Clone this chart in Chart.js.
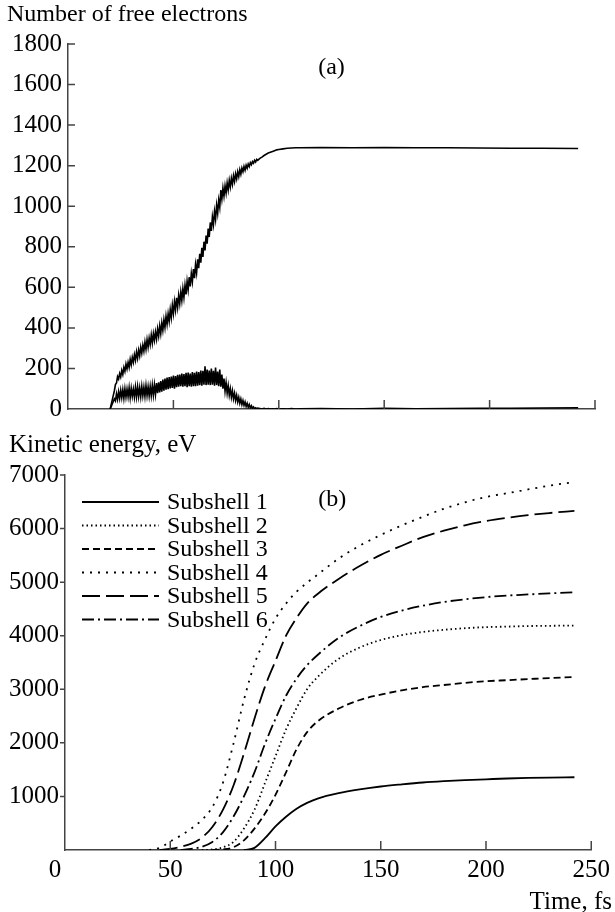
<!DOCTYPE html>
<html><head><meta charset="utf-8">
<script src="https://cdn.jsdelivr.net/npm/chart.js@4.4.1/dist/chart.umd.min.js"></script>
<style>
html,body{margin:0;padding:0;background:#fff;}
#wrap{position:relative;width:615px;height:912px;overflow:hidden;background:#fff;}
#c1{position:absolute;left:0;top:0;}
#c2{position:absolute;left:0;top:425px;}
</style></head><body>
<div id="wrap"><canvas id="c1" width="615" height="430"></canvas><canvas id="c2" width="615" height="487"></canvas></div>
<script>
// ---------- panel (a) data ----------
const topTimes = [
 20,21,
 22,22.5,23,23.5,24,24.5,25,25.5,26,26.5,
 27,27.5,28,28.5,29,29.5,30,30.5,31,31.5,
 32,32.5,33,33.5,34,34.5,35,35.5,36,36.5,
 37,37.5,38,38.5,39,39.5,40,40.5,41,41.5,
 42,42.5,43,43.5,44,44.5,45,45.5,46,46.5,
 47,47.5,48,48.5,49,49.5,50,50.5,51,51.5,
 52,52.5,53,53.5,54,54.5,55,55.5,56,56.5,
 57,57.5,58,58.5,59,59.5,60,60.5,61,61.5,
 62,62.5,63,63.5,64,64.5,65,65.5,66,66.5,
 67,67.5,68,68.5,69,69.5,70,70.5,71,71.5,
 72,72.5,73,73.5,74,74.5,75,75.5,76,76.5,
 77,77.5,78,78.5,79,79.5,80,80.5,81,81.5,
 82,82.5,83,83.5,84,84.5,85,85.5,86,86.5,
 87,87.5,88,88.5,89,89.5,90,
 91,92,93,94,95,96,97,98,99,100,102,104,106,108,110,120,135,150,165,180,195,210,225,242];
const totalElectrons = [
 0,45,
 90,120,128,160,148,175,158,190,170,205,
 185,222,198,230,205,245,218,255,230,268,
 240,282,250,290,262,305,275,315,285,330,
 295,342,305,350,318,365,325,372,338,380,
 345,395,360,410,372,425,388,440,402,458,
 418,470,432,490,450,512,470,530,488,548,
 502,560,520,578,535,595,550,610,565,630,
 588,650,605,668,628,690,645,712,672,738,
 695,765,722,795,750,825,782,855,815,890,
 848,920,878,948,910,975,935,1005,965,1030,
 995,1080,1035,1090,1050,1100,1065,1115,1080,1128,
 1095,1138,1108,1150,1122,1160,1135,1170,1146,1180,
 1158,1188,1170,1196,1178,1202,1187,1208,1196,1215,
 1205,1220,1212,1226,1218,1231,1226,
 1236,1242,1250,1256,1262,1266,1270,1274,1278,1280,1283,1286,1287,1288,1288,1289,1288,1289,1288,1288,1287,1286,1286,1285];
const innerElectrons = [
 0,25,
 50,40,75,48,85,52,92,55,95,52,
 100,58,98,60,105,55,102,62,98,58,
 108,60,110,62,105,60,112,65,108,62,
 115,66,110,64,112,66,118,68,120,72,
 128,78,132,82,138,86,145,90,150,95,
 155,98,158,102,160,104,165,100,162,108,
 168,110,170,112,175,110,172,112,178,108,
 180,112,175,110,182,112,178,112,185,115,
 182,118,190,115,188,120,210,118,195,120,
 190,118,200,120,188,115,205,118,185,112,
 195,110,170,100,150,88,130,78,115,68,
 100,58,90,50,78,42,68,35,58,28,
 50,22,42,18,35,12,28,8,22,5,
 16,3,10,2,6,1,4,
 2,0,3,0,2,0,1,0,2,0,1,0,2,0,1,2,0,3,1,2,4,3,5,6];
const electronTicks = [0,200,400,600,800,1000,1200,1400,1600,1800];
const timeTicks = [0,50,100,150,200,250];

// ---------- panel (b) data ----------
const bottomTimes = [40,45,50,55,60,65,70,75,80,85,90,95,100,105,110,115,120,130,140,150,160,170,180,190,200,210,220,230,242];
const subshellNames = ['Subshell 1','Subshell 2','Subshell 3','Subshell 4','Subshell 5','Subshell 6'];
const subshell1 = [null,null,null,null,null,null,null,null,null,0,40,220,440,620,770,880,960,1060,1130,1185,1225,1260,1285,1305,1320,1335,1345,1352,1358];
const subshell2 = [null,null,null,null,null,0,10,50,150,400,750,1250,1750,2250,2650,3000,3230,3570,3780,3920,4010,4070,4110,4140,4160,4170,4180,4185,4190];
const subshell3 = [null,null,null,null,null,null,0,10,50,180,400,680,1030,1450,1880,2200,2400,2640,2800,2900,2980,3040,3080,3120,3150,3170,3190,3210,3230];
const subshell4 = [0,40,160,270,400,560,800,1250,1980,2800,3470,3930,4320,4600,4820,4990,5140,5440,5680,5880,6060,6220,6370,6490,6590,6660,6730,6800,6870];
const subshell5 = [null,0,20,60,120,230,430,750,1200,1800,2450,3050,3530,4000,4330,4600,4780,5060,5300,5510,5680,5840,5960,6060,6140,6200,6250,6290,6330];
const subshell6 = [null,null,null,0,20,60,150,330,620,1000,1450,1980,2450,2880,3200,3450,3640,3960,4180,4350,4470,4560,4630,4680,4720,4750,4770,4790,4810];
const energyTicks = [0,1000,2000,3000,4000,5000,6000,7000];

// ---------- styling ----------
const FONT = "'Liberation Serif','DejaVu Serif',serif";
const AXIS = '#444';
const toXY = (xs, ys) => xs.map((x, i) => ({x: x, y: ys[i]}));
const fixedTicks = arr => (s => { s.ticks = arr.map(v => ({value: v})); });

const axisDecor = {
  id: 'axisDecor',
  afterDraw(chart, args, o) {
    const ctx = chart.ctx, xs = chart.scales.x, ys = chart.scales.y, ca = chart.chartArea;
    ctx.save();
    ctx.strokeStyle = AXIS; ctx.lineWidth = 1.5;
    ctx.beginPath();
    xs.ticks.forEach(t => {
      if (t.value === xs.min) return;
      const px = xs.getPixelForValue(t.value);
      ctx.moveTo(px, ca.bottom); ctx.lineTo(px, ca.bottom - o.xLen);
    });
    ys.ticks.forEach(t => {
      if (t.value === ys.min) return;
      const py = ys.getPixelForValue(t.value);
      ctx.moveTo(ca.left, py); ctx.lineTo(ca.left + o.yLen, py);
    });
    ctx.stroke();
    ctx.fillStyle = '#000';
    ctx.font = '24px ' + FONT;
    ctx.textAlign = 'center'; ctx.textBaseline = 'middle';
    ctx.fillText(o.panel.text, xs.getPixelForValue(o.panel.x), ys.getPixelForValue(o.panel.y));
    if (o.xZero) {
      ctx.font = '25px ' + FONT;
      ctx.fillText('0', xs.getPixelForValue(0) - 10, ca.bottom + 20);
    }
    if (o.xTitle) {
      ctx.font = '25px ' + FONT;
      ctx.textAlign = 'right'; ctx.textBaseline = 'alphabetic';
      ctx.fillText(o.xTitle, chart.width - 3, chart.height - 3);
    }
    if (o.legend) {
      chart.data.datasets.forEach((ds, i) => {
        const y = ca.top + 27 + i * 23.5;
        ctx.save();
        ctx.strokeStyle = ds.borderColor; ctx.lineWidth = ds.borderWidth;
        ctx.setLineDash(ds.borderDash || []);
        ctx.beginPath(); ctx.moveTo(ca.left + 17, y); ctx.lineTo(ca.left + 94, y); ctx.stroke();
        ctx.restore();
        ctx.font = '24px ' + FONT;
        ctx.textAlign = 'left'; ctx.textBaseline = 'middle';
        ctx.fillText(ds.label, ca.left + 102, y + 1);
      });
    }
    ctx.restore();
  }
};
Chart.register(axisDecor);

// ---------- panel (a) ----------
new Chart(document.getElementById('c1'), {
  type: 'line',
  data: {
    datasets: [
      {label: 'Total', data: toXY(topTimes, totalElectrons), borderColor: '#000', borderWidth: 1.6, pointRadius: 0, tension: 0},
      {label: 'Inner', data: toXY(topTimes, innerElectrons), borderColor: '#000', borderWidth: 1.6, pointRadius: 0, tension: 0}
    ]
  },
  options: {
    responsive: false, animation: false, devicePixelRatio: 1,
    layout: {padding: {left: 7, right: 20, top: 0, bottom: 0}},
    plugins: {
      legend: {display: false}, tooltip: {enabled: false},
      title: {display: true, text: 'Number of free electrons', align: 'start', color: '#000',
        font: {family: FONT, size: 24, weight: 'normal'}, padding: {top: 0.6, bottom: 14.6}},
      axisDecor: {xLen: 9, yLen: 7, panel: {text: '(a)', x: 125, y: 1684}}
    },
    scales: {
      x: {type: 'linear', min: 0, max: 250, afterBuildTicks: fixedTicks(timeTicks), afterFit: s => { s.height = 13; },
        grid: {display: false, drawTicks: false}, border: {display: true, color: AXIS, width: 1.5}, ticks: {display: false}},
      y: {type: 'linear', min: 0, max: 1800, afterBuildTicks: fixedTicks(electronTicks), afterFit: s => { s.width = 61; },
        grid: {display: false, drawTicks: false}, border: {display: true, color: AXIS, width: 1.5},
        ticks: {color: '#000', font: {family: FONT, size: 25}, padding: 6, callback: v => String(v)}}
    }
  }
});

// ---------- panel (b) ----------
const dashes = [[], [1.5, 3], [7, 4], [2, 6], [18, 6], [12, 4, 2, 4]];
const subshellSeries = [subshell1, subshell2, subshell3, subshell4, subshell5, subshell6];
new Chart(document.getElementById('c2'), {
  type: 'line',
  data: {
    datasets: subshellSeries.map((arr, i) => ({
      label: subshellNames[i], data: toXY(bottomTimes, arr), borderColor: '#000', borderWidth: 1.8,
      borderDash: dashes[i], pointRadius: 0, cubicInterpolationMode: 'monotone', spanGaps: false
    }))
  },
  options: {
    responsive: false, animation: false, devicePixelRatio: 1,
    layout: {padding: {left: 9, right: 23, top: 0, bottom: 0}},
    plugins: {
      legend: {display: false}, tooltip: {enabled: false},
      title: {display: true, text: 'Kinetic energy, eV', align: 'start', color: '#000',
        font: {family: FONT, size: 25, weight: 'normal'}, padding: {top: 5, bottom: 15}},
      axisDecor: {xLen: 9, yLen: -5, panel: {text: '(b)', x: 127, y: 6533}, xZero: true, xTitle: 'Time, fs', legend: true}
    },
    scales: {
      x: {type: 'linear', min: 0, max: 250, afterBuildTicks: fixedTicks(timeTicks), afterFit: s => { s.height = 62; },
        grid: {display: false, drawTicks: false}, border: {display: true, color: AXIS, width: 1.5},
        ticks: {color: '#000', font: {family: FONT, size: 25}, padding: 5, maxRotation: 0, autoSkip: false,
          callback: v => (v === 0 ? '' : String(v))}},
      y: {type: 'linear', min: 0, max: 7000, afterBuildTicks: fixedTicks(energyTicks), afterFit: s => { s.width = 56; },
        grid: {display: false, drawTicks: false}, border: {display: true, color: AXIS, width: 1.5},
        ticks: {color: '#000', font: {family: FONT, size: 25}, padding: 6, callback: v => (v === 0 ? '' : String(v))}}
    }
  }
});
</script>
</body></html>
